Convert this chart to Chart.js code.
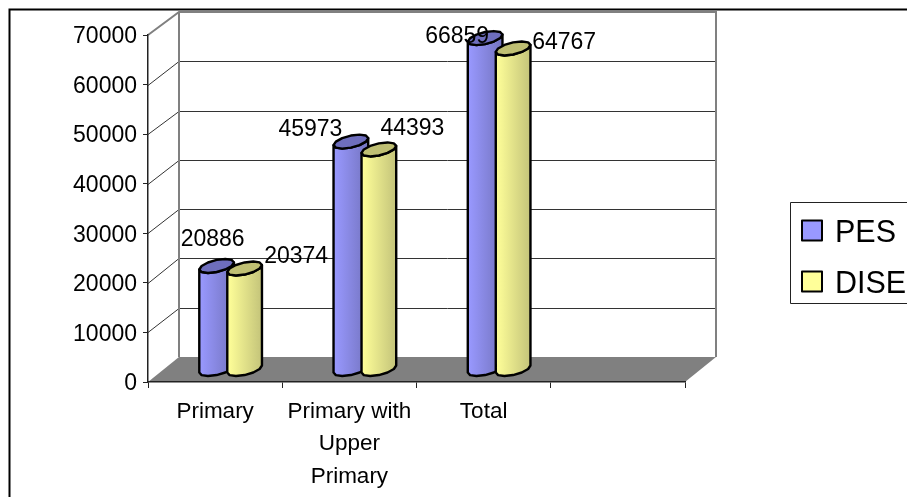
<!DOCTYPE html>
<html lang="en">
<head>
<meta charset="UTF-8">
<title>PES vs DISE</title>
<script src="https://cdn.jsdelivr.net/npm/chart.js"></script>
<style>
  html, body { margin: 0; padding: 0; background: #fff; overflow: hidden; }
  canvas { display: block; }
</style>
</head>
<body>
<canvas id="chart" width="907" height="497"></canvas>
<script>
// Chart data
const categories = ["Primary", ["Primary with", "Upper", "Primary"], "Total", ""];
const pesValues = [20886, 45973, 66859, null];
const diseValues = [20374, 44393, 64767, null];
const yMax = 70000;
const yStep = 10000;

// Fake 3D geometry (Excel style box)
const depthX = 31;
const backBottom = 357;
const backTop = 12;
const capU = { x: 15, y: 0 };
const capV = { x: 8.7, y: -7 };
const FONT = "'Liberation Sans', Arial, sans-serif";

// where each value label was dragged to, relative to the top of its bar
const pesLabelShift = [[-4, -26.5], [-40.5, -12], [-28, -1.5]];
const diseLabelShift = [[51.5, -12], [33.5, -21], [51, -6]];

function capPoint(cx, cy, deg) {
    const t = deg * Math.PI / 180;
    return {
        x: cx + Math.cos(t) * capU.x + Math.sin(t) * capV.x,
        y: cy + Math.cos(t) * capU.y + Math.sin(t) * capV.y
    };
}

function drawCylinder(ctx, cx, topY, baseY, dark, light, capColor) {
    const t0 = Math.atan2(capV.x, capU.x) * 180 / Math.PI;
    const facets = 6;
    const grad = ctx.createLinearGradient(cx - 17, 0, cx + 17, 0);
    grad.addColorStop(0, light);
    grad.addColorStop(1, dark);

    // body: front half of the base, then back along the front half of the top
    ctx.beginPath();
    for (let i = 0; i <= facets; i++) {
        const p = capPoint(cx, baseY, t0 + 180 + i * 180 / facets);
        if (i === 0) ctx.moveTo(p.x, p.y); else ctx.lineTo(p.x, p.y);
    }
    for (let i = facets; i >= 0; i--) {
        const p = capPoint(cx, topY, t0 + 180 + i * 180 / facets);
        ctx.lineTo(p.x, p.y);
    }
    ctx.closePath();
    ctx.fillStyle = grad;
    ctx.fill();
    ctx.lineJoin = "round";
    ctx.lineWidth = 2.4;
    ctx.strokeStyle = "#000";
    ctx.stroke();

    // top
    ctx.beginPath();
    for (let i = 0; i < facets * 2; i++) {
        const p = capPoint(cx, topY, t0 + i * 180 / facets);
        if (i === 0) ctx.moveTo(p.x, p.y); else ctx.lineTo(p.x, p.y);
    }
    ctx.closePath();
    ctx.fillStyle = capColor;
    ctx.fill();
    ctx.stroke();
}

const boxPlugin = {
    id: "box3d",
    beforeDraw(chart) {
        const ctx = chart.ctx;
        const { left, right, bottom } = chart.chartArea;
        const yScale = chart.scales.y;
        const backY = v => backBottom - (backBottom - backTop) * v / yMax;

        ctx.save();
        // outer frame, runs off the right and bottom edges
        ctx.strokeStyle = "#000";
        ctx.lineWidth = 2;
        ctx.strokeRect(9.5, 9.5, 1000, 1000);

        // gridlines on back wall and side wall
        ctx.strokeStyle = "#333";
        ctx.lineWidth = 1;
        for (let v = yStep; v < yMax; v += yStep) {
            const y = Math.round(yScale.getPixelForValue(v)) + 0.5;
            const by = Math.round(backY(v)) + 0.5;
            ctx.beginPath();
            ctx.moveTo(left, y);
            ctx.lineTo(left + depthX, by);
            ctx.lineTo(right + depthX, by);
            ctx.stroke();
        }

        // floor
        ctx.fillStyle = "#808080";
        ctx.beginPath();
        ctx.moveTo(left, bottom);
        ctx.lineTo(left + depthX, backBottom);
        ctx.lineTo(right + depthX, backBottom);
        ctx.lineTo(right, bottom);
        ctx.closePath();
        ctx.fill();

        // wall edges
        ctx.strokeStyle = "#808080";
        ctx.lineWidth = 2;
        ctx.beginPath();
        ctx.moveTo(left, yScale.getPixelForValue(yMax));
        ctx.lineTo(left + depthX, backTop);
        ctx.lineTo(right + depthX, backTop);
        ctx.lineTo(right + depthX, backBottom);
        ctx.moveTo(left + depthX, backTop);
        ctx.lineTo(left + depthX, backBottom);
        ctx.stroke();
        ctx.restore();
    },
    afterDatasetsDraw(chart) {
        const ctx = chart.ctx;
        const liftY = (backBottom - chart.chartArea.bottom) / 2;
        const labels = [];

        ctx.save();
        chart.data.datasets.forEach((ds, d) => {
            chart.getDatasetMeta(d).data.forEach((bar, i) => {
                if (ds.data[i] === null) return;
                const cx = bar.x + depthX / 2;
                const topY = bar.y + liftY;
                drawCylinder(ctx, cx, topY, bar.base + liftY, ds.shade, ds.tint, ds.cap);
                labels.push({ text: String(ds.data[i]), x: cx + ds.labelShift[i][0], y: topY + ds.labelShift[i][1] });
            });
        });

        // value labels sit over the bars
        ctx.fillStyle = "#000";
        ctx.font = "23px " + FONT;
        ctx.textAlign = "center";
        ctx.textBaseline = "middle";
        labels.forEach(l => ctx.fillText(l.text, l.x, l.y));

        // legend box
        ctx.strokeStyle = "#222";
        ctx.lineWidth = 1;
        ctx.strokeRect(790.5, 202.5, 200, 101);
        ctx.font = "30.5px " + FONT;
        ctx.textAlign = "left";
        ctx.textBaseline = "alphabetic";
        chart.data.datasets.forEach((ds, d) => {
            const y = 220.5 + d * 51;
            ctx.fillStyle = ds.tint;
            ctx.fillRect(802, y, 20, 20);
            ctx.strokeStyle = "#000";
            ctx.lineWidth = 2;
            ctx.strokeRect(802, y, 20, 20);
            ctx.fillStyle = "#000";
            ctx.fillText(ds.label, 835, y + 21);
        });
        ctx.restore();
    }
};

new Chart(document.getElementById("chart"), {
    type: "bar",
    data: {
        labels: categories,
        datasets: [
            {
                label: "PES", data: pesValues, backgroundColor: "transparent",
                tint: "#9999ff", shade: "#7474c0", cap: "#6e6ebd", labelShift: pesLabelShift,
                categoryPercentage: 0.417, barPercentage: 1
            },
            {
                label: "DISE", data: diseValues, backgroundColor: "transparent",
                tint: "#ffff99", shade: "#c4c47a", cap: "#bfbf73", labelShift: diseLabelShift,
                categoryPercentage: 0.417, barPercentage: 1
            }
        ]
    },
    options: {
        responsive: false,
        animation: false,
        layout: { padding: { top: 35, right: 222, left: 0, bottom: 0 } },
        plugins: { legend: { display: false }, tooltip: { enabled: false } },
        scales: {
            x: {
                afterFit: s => { s.height = 115; },
                grid: { drawOnChartArea: false, drawTicks: true, tickLength: 6, color: "#222" },
                border: { color: "#222", width: 1.5 },
                ticks: {
                    color: "#000", autoSkip: false, maxRotation: 0, padding: 7,
                    font: { family: FONT, size: 22.5, lineHeight: 1.45 }
                }
            },
            y: {
                min: 0,
                max: yMax,
                afterFit: s => { s.width = 148; },
                grid: { drawOnChartArea: false, drawTicks: true, tickLength: 5, color: "#222" },
                border: { color: "#222", width: 1.5 },
                ticks: {
                    color: "#000", stepSize: yStep, padding: 6, labelOffset: 2,
                    font: { family: FONT, size: 23 },
                    callback: v => String(v)
                }
            }
        }
    },
    plugins: [boxPlugin]
});
</script>
</body>
</html>
